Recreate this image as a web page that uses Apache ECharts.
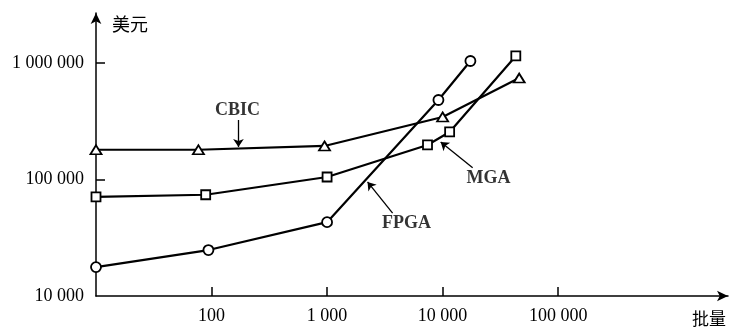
<!DOCTYPE html>
<html>
<head>
<meta charset="utf-8">
<script src="https://cdn.jsdelivr.net/npm/echarts@6/dist/echarts.min.js"></script>
<style>
  html, body { margin: 0; padding: 0; background: #fff; }
  #main { width: 732px; height: 331px; }
</style>
</head>
<body>
<div id="main"></div>
<script>
// 批量 / 美元, 对数坐标
const xTicks = [100, 1000, 10000, 100000];
const xTickLabels = ['100', '1 000', '10 000', '100 000'];
const yLabelValues = [10000, 100000, 1000000];
const yTickLabels = ['10 000', '100 000', '1 000 000'];
const yTicks = [100000, 1000000];

const cbic = [[10, 180000], [77, 180000], [950, 194000], [10000, 344000], [46000, 743000]];
const mga = [[10, 71000], [89, 74000], [1000, 105000], [7400, 198000], [11500, 256000], [43000, 1150000]];
const fpga = [[10, 17700], [94, 24800], [1000, 43000], [9200, 481000], [17400, 1040000]];

// 标注: 文字位置, 箭头起点, 箭头终点
const noteNames = ['CBIC', 'MGA', 'FPGA'];
const notePos = [[168, 395000], [25000, 103000], [4870, 42400]];
const arrowFrom = [[171, 324000], [18200, 126000], [3690, 51500]];
const arrowTo = [[171, 190000], [9620, 210000], [2240, 95300]];

const serif = 'Liberation Serif';
const cjk = 'Noto Sans CJK SC';

function lineSeries (name, data, symbol, size) {
    return {
        name: name,
        type: 'line',
        data: data,
        symbol: symbol,
        symbolSize: size,
        showSymbol: true,
        lineStyle: { color: '#000', width: 2.2 },
        itemStyle: { color: '#fff', borderColor: '#000', borderWidth: 1.8 },
        z: 3,
        silent: true
    }
}

const chart = echarts.init(document.getElementById('main'));
chart.setOption({
    animation: false,
    backgroundColor: '#fff',
    grid: { left: 96, right: 4, top: 13, bottom: 35 },
    xAxis: {
        type: 'log',
        logBase: 10,
        min: 10,
        max: Math.pow(10, 6.47),
        name: '批量',
        nameLocation: 'end',
        nameGap: -19,
        nameTextStyle: {
            fontFamily: cjk, fontSize: 17, color: '#000',
            align: 'center', verticalAlign: 'top', padding: [14, 0, 0, 0]
        },
        axisLine: {
            lineStyle: { color: '#000', width: 1.5 },
            symbol: ['none', 'arrow'], symbolSize: [8, 11]
        },
        axisTick: { inside: true, length: 9, customValues: xTicks, lineStyle: { color: '#000', width: 1.5 } },
        axisLabel: {
            customValues: xTicks,
            formatter: v => xTickLabels[xTicks.indexOf(Math.round(v))] || '',
            fontFamily: serif, fontSize: 18, color: '#000', margin: 11
        },
        splitLine: { show: false },
        minorTick: { show: false }
    },
    yAxis: {
        type: 'log',
        logBase: 10,
        min: 10000,
        max: Math.pow(10, 6.429),
        name: '美元',
        nameLocation: 'end',
        nameGap: -11,
        nameTextStyle: {
            fontFamily: cjk, fontSize: 18, color: '#000',
            align: 'left', verticalAlign: 'middle', padding: [0, 0, 0, 16]
        },
        axisLine: {
            lineStyle: { color: '#000', width: 1.5 },
            symbol: ['none', 'arrow'], symbolSize: [8, 11]
        },
        axisTick: { inside: true, length: 9, customValues: yTicks, lineStyle: { color: '#000', width: 1.5 } },
        axisLabel: {
            customValues: yLabelValues,
            formatter: v => yTickLabels[yLabelValues.indexOf(Math.round(v))] || '',
            fontFamily: serif, fontSize: 18, color: '#000', margin: 12
        },
        splitLine: { show: false },
        minorTick: { show: false }
    },
    series: [
        lineSeries('CBIC', cbic, 'triangle', [11, 9]),
        lineSeries('MGA', mga, 'rect', 9),
        lineSeries('FPGA', fpga, 'circle', 10),
        {
            name: 'notes',
            type: 'scatter',
            symbolSize: 0,
            silent: true,
            data: notePos.map((p, i) => [p[0], p[1], noteNames[i]]),
            label: {
                show: true,
                position: 'inside',
                formatter: p => p.value[2],
                fontFamily: serif, fontSize: 18, fontWeight: 'bold', color: '#000'
            },
            markLine: {
                silent: true,
                symbol: ['none', 'arrow'],
                symbolSize: 8,
                label: { show: false },
                lineStyle: { color: '#000', width: 1.3, type: 'solid' },
                data: arrowFrom.map((p, i) => [{ coord: p }, { coord: arrowTo[i] }])
            }
        }
    ]
});
</script>
</body>
</html>
